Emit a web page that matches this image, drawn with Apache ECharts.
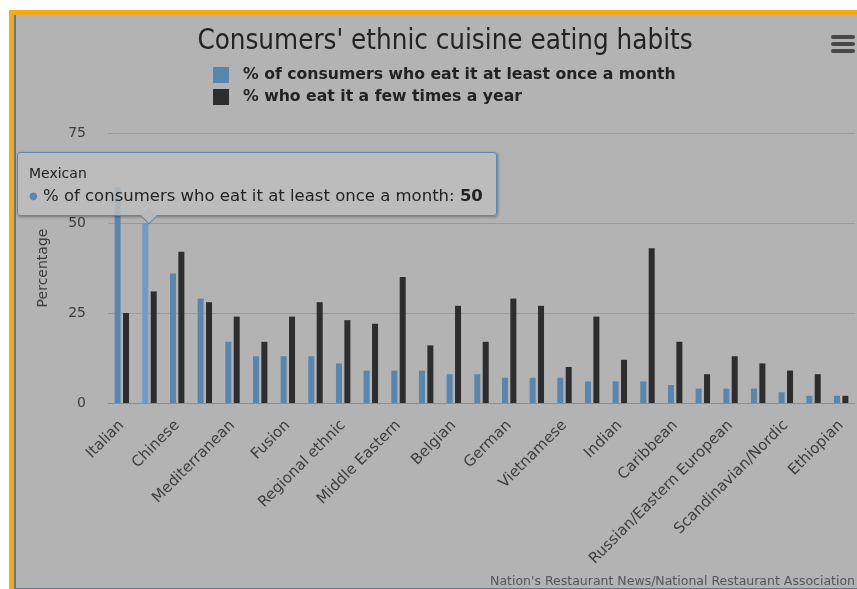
<!DOCTYPE html>
<html><head><meta charset="utf-8">
<script src="https://cdn.jsdelivr.net/npm/echarts@6/dist/echarts.min.js"></script>
<style>
html,body{margin:0;padding:0;background:#fff;width:857px;height:589px;overflow:hidden}
#o{position:absolute;left:9px;top:10px;right:0;bottom:0;background:#f4a81e}
#l{position:absolute;left:14px;top:15px;right:0;bottom:0;background:#647789}
#g{position:absolute;left:16px;top:15px;right:0;bottom:1px;background:#b3b3b3}
#c{position:absolute;left:0;top:0;width:857px;height:589px}
</style></head><body>
<div id="o"></div><div id="l"></div><div id="g"></div><div id="c"></div>
<script>
const categories = ['Italian','Mexican','Chinese','Japanese','Mediterranean','Thai','Fusion','Greek',
  'Regional ethnic','Latin American','Middle Eastern','Spanish','Belgian','Korean','German','French',
  'Vietnamese','Cuban','Indian','Cajun/Creole','Caribbean','Brazilian','Russian/Eastern European',
  'Peruvian','Scandinavian/Nordic','Filipino','Ethiopian'];
const monthly = [60,50,36,29,17,13,13,13,11,9,9,9,8,8,7,7,7,6,6,6,5,4,4,4,3,2,2];
const fewTimesYear = [25,31,42,28,24,17,24,28,23,22,35,16,27,17,29,27,10,24,12,43,17,8,13,11,9,8,2];
const yTicks = [0,25,50,75];
const seriesNames = ['% of consumers who eat it at least once a month','% who eat it a few times a year'];

const BLUE = '#5a86ae', BLACK = '#2d2d2f';
const chart = echarts.init(document.getElementById('c'), null, {renderer:'canvas'});
chart.setOption({
  backgroundColor: 'transparent',
  animation: false,
  textStyle: {fontFamily: 'DejaVu Sans'},
  title: {
    text: "Consumers' ethnic cuisine eating habits",
    left: 440, top: 23, textAlign: 'center',
    textStyle: {fontFamily: 'DejaVu Sans Condensed', fontSize: 27.5, fontWeight: 'normal', color: '#232323'}
  },
  legend: {
    orient: 'vertical', left: 208, top: 62, itemGap: 6,
    itemWidth: 16, itemHeight: 16, icon: 'rect', selectedMode: false,
    textStyle: {fontFamily: 'DejaVu Sans', fontWeight: 'bold', fontSize: 15.7, color: '#222', padding: [0, 0, 0, 9]},
    data: seriesNames
  },
  grid: {left: 108, right: 2, top: 133, bottom: 186, containLabel: false},
  tooltip: {
    trigger: 'item', triggerOn: 'none', alwaysShowContent: true, transitionDuration: 0,
    position: [17, 152],
    backgroundColor: 'rgba(190,190,190,0.82)', borderColor: '#5a87b0', borderWidth: 1,
    padding: [13, 13, 10, 11],
    extraCssText: 'border-radius:3px;box-shadow:1px 1px 3px rgba(0,0,0,0.35);overflow:visible;',
    formatter: function (p) {
      return '<div style="font-family:DejaVu Sans;color:#222;line-height:1">' +
        '<div style="font-size:14px;margin-bottom:8px">' + p.name + '</div>' +
        '<div style="font-size:16.5px"><span style="color:' + BLUE + ';font-size:10px;vertical-align:2px">\u25CF</span> ' +
        p.seriesName + ': <b>' + p.value + '</b></div>' +
        '<div style="position:absolute;left:125px;bottom:-7px;width:11px;height:11px;transform:rotate(45deg);' +
        'background:#b8b8b8;border-right:1px solid #5a87b0;border-bottom:1px solid #5a87b0"></div></div>';
    }
  },
  xAxis: {
    type: 'category', data: categories,
    axisLine: {lineStyle: {color: '#7d90a4', width: 1}},
    axisTick: {alignWithLabel: true, interval: 1, length: 10, lineStyle: {color: '#7d90a4'}},
    axisLabel: {interval: 1, rotate: 45, margin: 20, fontSize: 15, color: '#3d3d3d', fontFamily: 'DejaVu Sans'}
  },
  yAxis: {
    type: 'value', min: yTicks[0], max: yTicks[yTicks.length - 1], interval: 25,
    name: 'Percentage', nameLocation: 'middle', nameGap: 58, nameRotate: 90,
    nameTextStyle: {fontSize: 14, color: '#3d3d3d', fontFamily: 'DejaVu Sans'},
    axisLabel: {fontSize: 14, color: '#3d3d3d', margin: 22},
    axisLine: {show: false}, axisTick: {show: false},
    splitLine: {lineStyle: {color: '#9a9a9a', width: 1}}
  },
  series: [
    {name: seriesNames[0], type: 'bar', data: monthly, barWidth: 6, barGap: '40%',
     itemStyle: {color: BLUE}, emphasis: {focus: 'none', itemStyle: {color: '#6f9cc6'}}},
    {name: seriesNames[1], type: 'bar', data: fewTimesYear, barWidth: 6, barGap: '40%',
     itemStyle: {color: BLACK}, emphasis: {disabled: true}}
  ],
  graphic: [
    {type: 'rect', left: 831, top: 35, shape: {width: 24, height: 4, r: 2}, style: {fill: '#474747'}},
    {type: 'rect', left: 831, top: 42, shape: {width: 24, height: 4, r: 2}, style: {fill: '#474747'}},
    {type: 'rect', left: 831, top: 49, shape: {width: 24, height: 4, r: 2}, style: {fill: '#474747'}},
    {type: 'text', right: 2, bottom: 1, style: {text: "Nation's Restaurant News/National Restaurant Association",
      fontSize: 12.5, fontFamily: 'DejaVu Sans', fill: '#555'}}
  ]
});
chart.dispatchAction({type: 'highlight', seriesIndex: 0, dataIndex: 1});
chart.dispatchAction({type: 'showTip', seriesIndex: 0, dataIndex: 1});
</script>
</body></html>
